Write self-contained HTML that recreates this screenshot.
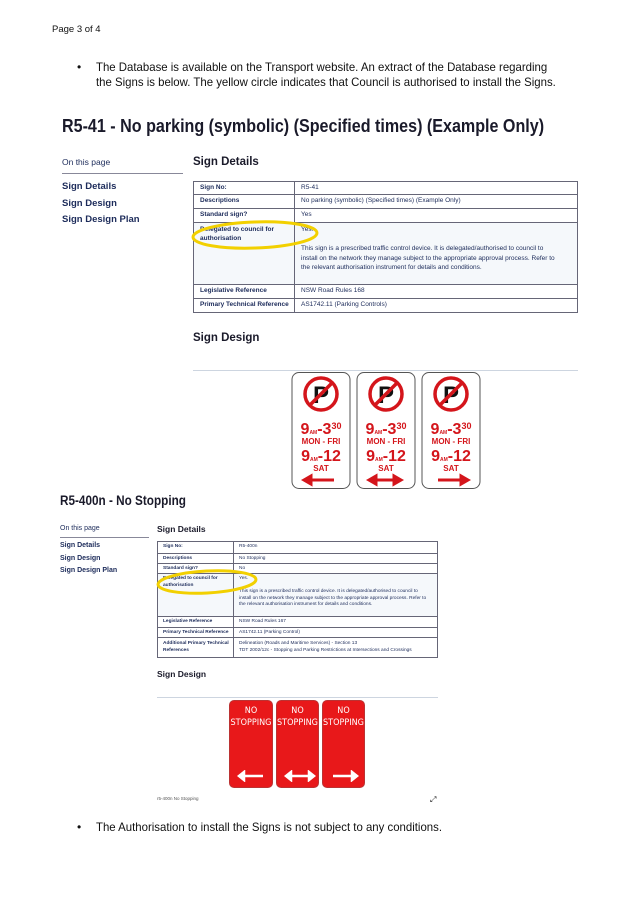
<!DOCTYPE html>
<html><head><meta charset="utf-8"><style>
*{margin:0;padding:0;box-sizing:border-box}
body{width:637px;height:901px;background:#fff;position:relative;overflow:hidden;font-family:"Liberation Sans",sans-serif;color:#111}
.a{position:absolute;white-space:nowrap}
.nav{color:#1c2b5a;font-weight:bold}
table{position:absolute;border-collapse:collapse;color:#1c2b5a;border:1.5px solid #556;table-layout:fixed}
td{border:1px solid #667;vertical-align:top;padding:0 0 0 6px;white-space:nowrap;overflow:hidden}
.t1 td{font-size:6.5px;line-height:12px}
.t2 td{font-size:4.8px;line-height:9px;padding-left:5px}
td.k{font-weight:bold}
.rs{position:absolute;background:#e8181a;border:1.5px solid #b33;border-radius:5px;color:#fff;text-align:center;font-family:"DejaVu Sans Condensed","Liberation Sans Narrow",sans-serif;font-size:9px;line-height:12px;padding-top:4px}
</style></head><body>
<div class="a" style="left:52px;top:24px;font-size:9.5px">Page 3 of 4</div>
<div class="a" style="left:77px;top:60px;font-size:12px">•</div>
<div class="a" style="left:96px;top:60px;font-size:12px;line-height:15px;transform:scaleX(0.95);transform-origin:left">The Database is available on the Transport website. An extract of the Database regarding<br>the Signs is below. The yellow circle indicates that Council is authorised to install the Signs.</div>
<div class="a" style="left:62px;top:115px;font-size:18.5px;font-weight:bold;color:#1a1a2a;transform:scaleX(0.87);transform-origin:left">R5-41 - No parking (symbolic) (Specified times) (Example Only)</div>

<div class="a" style="left:62px;top:157px;font-size:8.5px;color:#1c2b5a">On this page</div>
<div class="a" style="left:62px;top:173px;width:121px;height:1px;background:#889"></div>
<div class="a nav" style="left:62px;top:181px;font-size:9.5px">Sign Details</div>
<div class="a nav" style="left:62px;top:198px;font-size:9.5px">Sign Design</div>
<div class="a nav" style="left:62px;top:214px;font-size:9.5px">Sign Design Plan</div>
<div class="a" style="left:193px;top:156px;font-size:11.5px;font-weight:bold;color:#1a1a2a">Sign Details</div>
<table class="t1" style="left:193px;top:181px;width:385px">
<col style="width:101px"><col>
<tr style="height:12px"><td class="k">Sign No:</td><td>R5-41</td></tr>
<tr style="height:14px"><td class="k">Descriptions</td><td>No parking (symbolic) (Specified times) (Example Only)</td></tr>
<tr style="height:14px"><td class="k">Standard sign?</td><td>Yes</td></tr>
<tr style="height:62px;background:#f5f8fb"><td class="k" style="line-height:9px;padding-top:2px">Delegated to council for<br>authorisation</td><td style="line-height:9.5px;padding-top:2px">Yes.<br><br>This sign is a prescribed traffic control device. It is delegated/authorised to council to<br>install on the network they manage subject to the appropriate approval process. Refer to<br>the relevant authorisation instrument for details and conditions.</td></tr>
<tr style="height:14px"><td class="k">Legislative Reference</td><td>NSW Road Rules 168</td></tr>
<tr style="height:14px"><td class="k">Primary Technical Reference</td><td>AS1742.11 (Parking Controls)</td></tr>
</table>
<svg class="a" style="left:190px;top:218px" width="132" height="34"><ellipse cx="65" cy="17" rx="62" ry="13" fill="none" stroke="#f2d000" stroke-width="3" transform="rotate(-2 65 17)"/></svg>

<div class="a" style="left:193px;top:332px;font-size:11.5px;font-weight:bold;color:#1a1a2a">Sign Design</div>
<div class="a" style="left:193px;top:370px;width:385px;height:1px;background:#cdd5e0"></div>

<svg class="a" style="left:291px;top:372px" width="195" height="118">
<g font-family="Liberation Sans,sans-serif" font-weight="bold" fill="#d4151b" text-anchor="middle">
<g id="s"><rect x="1" y="0.5" width="58" height="116" rx="7" fill="#fff" stroke="#555"/>
<circle cx="30" cy="22" r="16" fill="#fff" stroke="#d4151b" stroke-width="3.5"/>
<text x="30" y="31" font-size="24" fill="#111" font-weight="bold">P</text>
<line x1="19" y1="33" x2="41" y2="11" stroke="#d4151b" stroke-width="3.5"/>
<text x="30" y="62" font-size="16">9<tspan font-size="5">AM</tspan>-3<tspan font-size="9" dy="-5">30</tspan></text>
<text x="30" y="72" font-size="8">MON - FRI</text>
<text x="30" y="89" font-size="16">9<tspan font-size="5">AM</tspan>-12</text>
<text x="30" y="99" font-size="8">SAT</text></g>
<use href="#s" x="65"/><use href="#s" x="130"/>
<path d="M13 108h30M13 108l7-4v8z" stroke="#d4151b" stroke-width="3"/>
<path d="M78 108h32M78 108l7-4v8zM110 108l-7-4v8z" stroke="#d4151b" stroke-width="3"/>
<path d="M147 108h30M177 108l-7-4v8z" stroke="#d4151b" stroke-width="3"/>
</g></svg>

<div class="a" style="left:60px;top:493px;font-size:13.5px;font-weight:bold;color:#1a1a2a;transform:scaleX(0.87);transform-origin:left">R5-400n - No Stopping</div>
<div class="a" style="left:60px;top:525px;font-size:7px;color:#1c2b5a">On this page</div>
<div class="a" style="left:60px;top:537px;width:89px;height:1px;background:#889"></div>
<div class="a nav" style="left:60px;top:542px;font-size:7px">Sign Details</div>
<div class="a nav" style="left:60px;top:555px;font-size:7px">Sign Design</div>
<div class="a nav" style="left:60px;top:567px;font-size:7px">Sign Design Plan</div>
<div class="a" style="left:157px;top:524px;font-size:8.5px;font-weight:bold;color:#1a1a2a">Sign Details</div>
<table class="t2" style="left:157px;top:541px;width:281px">
<col style="width:76px"><col>
<tr style="height:12px"><td class="k">Sign No:</td><td>R5-400n</td></tr>
<tr style="height:10px"><td class="k">Descriptions</td><td>No Stopping</td></tr>
<tr style="height:10px"><td class="k">Standard sign?</td><td>No</td></tr>
<tr style="height:43px;background:#f5f8fb"><td class="k" style="line-height:6.5px;padding-top:2px">Delegated to council for<br>authorisation</td><td style="line-height:6.5px;padding-top:2px">Yes.<br><br>This sign is a prescribed traffic control device. It is delegated/authorised to council to<br>install on the network they manage subject to the appropriate approval process. Refer to<br>the relevant authorisation instrument for details and conditions.</td></tr>
<tr style="height:11px"><td class="k">Legislative Reference</td><td>NSW Road Rules 167</td></tr>
<tr style="height:10px"><td class="k">Primary Technical Reference</td><td>AS1742.11 (Parking Control)</td></tr>
<tr style="height:20px"><td class="k" style="line-height:7px;padding-top:2px">Additional Primary Technical<br>References</td><td style="line-height:7px;padding-top:2px">Delineation (Roads and Maritime Services) - Section 13<br>TDT 2002/12c - Stopping and Parking Restrictions at Intersections and Crossings</td></tr>
</table>
<svg class="a" style="left:155px;top:568px" width="105" height="30"><ellipse cx="52" cy="14" rx="49" ry="11" fill="none" stroke="#f2d000" stroke-width="3" transform="rotate(-3 52 14)"/></svg>

<div class="a" style="left:157px;top:669px;font-size:8.5px;font-weight:bold;color:#1a1a2a">Sign Design</div>
<div class="a" style="left:157px;top:697px;width:281px;height:1px;background:#cdd5e0"></div>
<div class="rs" style="left:229px;top:700px;width:44px;height:88px">NO<br>STOPPING</div>
<div class="rs" style="left:276px;top:700px;width:43px;height:88px">NO<br>STOPPING</div>
<div class="rs" style="left:322px;top:700px;width:43px;height:88px">NO<br>STOPPING</div>
<svg class="a" style="left:229px;top:770px" width="136" height="12" fill="#fff" stroke="#fff" stroke-width="2.5">
<path d="M10 6h24M10 6l5-4v8z"/><path d="M57 6h28M57 6l5-4v8zM85 6l-5-4v8z"/><path d="M104 6h24M128 6l-5-4v8z"/></svg>
<div class="a" style="left:157px;top:796px;font-size:4.5px;color:#555">r5-400n No Stopping</div>
<div class="a" style="left:430px;top:795px;font-size:8px">⤢</div>

<div class="a" style="left:77px;top:820px;font-size:12px">•</div>
<div class="a" style="left:96px;top:820px;font-size:12px;transform:scaleX(0.95);transform-origin:left">The Authorisation to install the Signs is not subject to any conditions.</div>
</body></html>
